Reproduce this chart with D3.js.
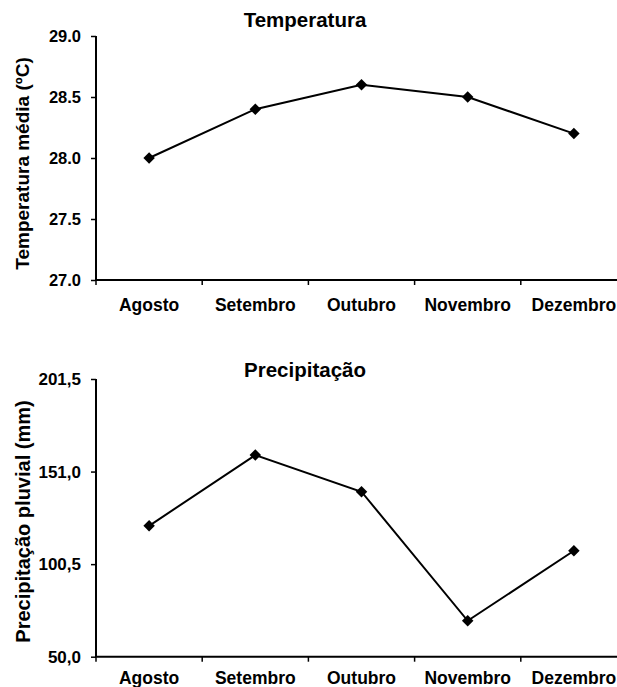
<!DOCTYPE html>
<html>
<head>
<meta charset="utf-8">
<script src="https://cdn.jsdelivr.net/npm/d3@7"></script>
<style>
  body { margin: 0; background: #fff; }
  text { font-family: "Liberation Sans", Arial, sans-serif; font-weight: bold; fill: #000; }
</style>
</head>
<body>
<div id="plot"></div>
<script>
var months = ["Agosto", "Setembro", "Outubro", "Novembro", "Dezembro"];
var temperatura = [28.0, 28.4, 28.6, 28.5, 28.2];
var precipitacao = [121.4, 160.0, 140.0, 69.6, 107.8];
var tempTicks = [27.0, 27.5, 28.0, 28.5, 29.0];
var precTicks = [50.0, 100.5, 151.0, 201.5];

var svgWidth = 617;
var svgHeight = 687;

var svg = d3.select("#plot")
  .append("svg")
  .attr("width", svgWidth)
  .attr("height", svgHeight);

var commaFmt = function(v) { return d3.format(".1f")(v).replace(".", ","); };

function drawPanel(opts) {
  var g = svg.append("g");

  var x = d3.scaleBand()
    .domain(months)
    .range([96, 627]);

  var y = d3.scaleLinear()
    .domain(opts.domain)
    .range([opts.bottom, opts.top]);

  // title
  g.append("text")
    .attr("x", 305)
    .attr("y", opts.titleY)
    .attr("text-anchor", "middle")
    .attr("font-size", "20.5px")
    .text(opts.title);

  // y axis
  var yAxis = g.append("g")
    .attr("transform", "translate(96,0)")
    .call(d3.axisLeft(y)
      .tickValues(opts.ticks)
      .tickSize(5)
      .tickPadding(10)
      .tickFormat(opts.fmt));
  yAxis.select(".domain").attr("stroke-width", 2).attr("d", "M0," + opts.top + "V" + opts.bottom);
  yAxis.selectAll(".tick line").attr("stroke-width", 1.5);
  yAxis.selectAll("text").attr("font-size", opts.tickFont);

  // x axis (labels centred, ticks between categories)
  var xAxis = g.append("g")
    .attr("transform", "translate(0," + opts.bottom + ")")
    .call(d3.axisBottom(x).tickSize(0).tickPadding(opts.xPad));
  xAxis.select(".domain").attr("stroke-width", 2).attr("d", "M95,0H627");
  xAxis.selectAll("text").attr("font-size", "17.5px");

  var bounds = months.map(function(m) { return x(m); }).concat([x.range()[1]]);
  g.append("g")
    .selectAll("line")
    .data(bounds)
    .enter()
    .append("line")
    .attr("x1", d => d)
    .attr("x2", d => d)
    .attr("y1", opts.bottom)
    .attr("y2", opts.bottom + 5)
    .attr("stroke", "#000")
    .attr("stroke-width", 1.5);

  // y label
  g.append("text")
    .attr("transform", "rotate(-90)")
    .attr("x", -opts.labelCenter)
    .attr("y", opts.labelX)
    .attr("text-anchor", "middle")
    .attr("font-size", opts.labelFont)
    .text(opts.label);

  // line + diamonds
  var data = months.map(function(m, i) { return { m: m, v: opts.values[i] }; });
  var line = d3.line()
    .x(d => x(d.m) + x.bandwidth() / 2)
    .y(d => y(d.v));

  g.append("path")
    .datum(data)
    .attr("d", line)
    .attr("fill", "none")
    .attr("stroke", "#000")
    .attr("stroke-width", 2);

  g.selectAll(".pt")
    .data(data)
    .enter()
    .append("path")
    .attr("class", "pt")
    .attr("d", d3.symbol(d3.symbolSquare, 66))
    .attr("transform", d => "translate(" + (x(d.m) + x.bandwidth() / 2) + "," + y(d.v) + ") rotate(45)")
    .attr("fill", "#000");
}

drawPanel({
  title: "Temperatura",
  titleY: 27,
  domain: [27, 29],
  top: 36,
  bottom: 280,
  ticks: tempTicks,
  fmt: d3.format(".1f"),
  tickFont: "16.5px",
  xPad: 19,
  values: temperatura,
  label: "Temperatura média (ºC)",
  labelCenter: 163.5,
  labelX: 28.5,
  labelFont: "19px"
});

drawPanel({
  title: "Precipitação",
  titleY: 377,
  domain: [50, 201.5],
  top: 379,
  bottom: 656.7,
  ticks: precTicks,
  fmt: commaFmt,
  tickFont: "17px",
  xPad: 15,
  values: precipitacao,
  label: "Precipitação pluvial (mm)",
  labelCenter: 521.5,
  labelX: 29.5,
  labelFont: "20px"
});
</script>
</body>
</html>
